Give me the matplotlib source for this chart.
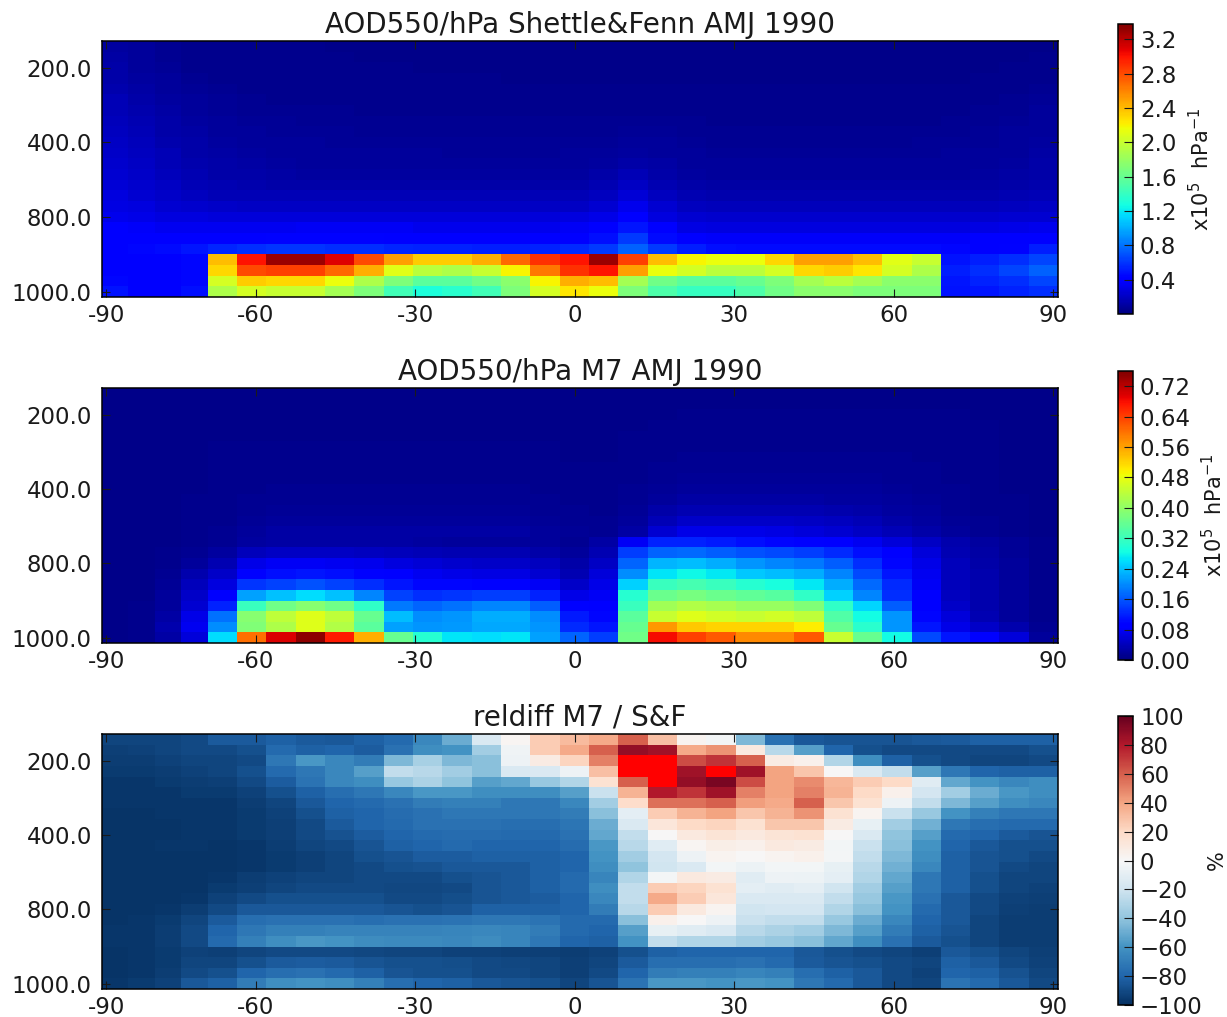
import numpy as np
import matplotlib
matplotlib.use('Agg')
import matplotlib.pyplot as plt

W, H = 1227., 1017.

# model level / latitude cell layout (axes run over cell index, not degrees)
x_edges = np.r_[np.linspace(0, 10.64, 5), np.linspace(10.64, 84.25, 26)[1:], np.linspace(84.25, 96, 5)[1:]]
y_edges = np.arange(25)
lat_ticks = [0.5, 15.5, 31.5, 47.5, 63.5, 79.5, 95.5]
lat_labels = ['-90', '-60', '-30', '0', '30', '60', '90']
lev_ticks = [2.5, 9.5, 16.5, 23.5]
lev_labels = ['200.0', '400.0', '800.0', '1000.0']

# AOD550/hPa Shettle&Fenn, x1e5 hPa-1, in hundredths
aod_sf = np.array([
[10, 8, 6, 5, 4, 4, 4, 4, 3, 3, 3, 3, 3, 3, 3, 3, 3, 3, 3, 3, 3, 3, 3, 3, 3, 3, 3, 3, 3, 3, 3, 3, 3],
[11, 8, 6, 5, 4, 4, 4, 4, 4, 3, 3, 3, 3, 3, 3, 3, 3, 3, 3, 3, 3, 3, 3, 3, 3, 3, 3, 3, 3, 3, 3, 3, 4],
[12, 9, 7, 5, 4, 4, 4, 4, 4, 4, 4, 3, 3, 3, 3, 3, 3, 3, 3, 3, 3, 3, 3, 3, 3, 3, 3, 3, 3, 3, 3, 4, 4],
[13,10, 8, 6, 5, 4, 4, 4, 4, 4, 4, 4, 4, 4, 3, 3, 3, 3, 3, 3, 3, 3, 3, 3, 3, 3, 3, 3, 3, 3, 4, 4, 5],
[14,11, 9, 7, 6, 5, 5, 5, 4, 4, 4, 4, 4, 4, 4, 4, 4, 4, 4, 4, 4, 4, 4, 4, 4, 4, 4, 4, 4, 4, 4, 5, 6],
[16,12,10, 8, 7, 6, 5, 5, 5, 5, 5, 5, 5, 5, 4, 4, 4, 4, 4, 4, 4, 4, 4, 4, 4, 4, 4, 4, 4, 4, 5, 6, 7],
[17,14,11, 9, 7, 6, 6, 6, 6, 5, 5, 5, 5, 5, 5, 5, 5, 5, 5, 5, 5, 5, 5, 5, 5, 5, 5, 5, 5, 5, 6, 6, 8],
[18,15,12,10, 8, 7, 7, 6, 6, 6, 6, 6, 6, 6, 6, 6, 6, 6, 6, 6, 6, 5, 5, 5, 5, 5, 5, 5, 5, 6, 6, 7, 8],
[19,16,13,11, 9, 8, 7, 7, 7, 6, 6, 6, 6, 6, 6, 6, 6, 6, 7, 7, 6, 6, 6, 6, 6, 6, 6, 6, 6, 6, 7, 8, 9],
[21,18,14,12,10, 9, 8, 8, 7, 7, 7, 7, 7, 7, 7, 7, 7, 7, 8, 8, 7, 6, 6, 6, 6, 6, 6, 6, 7, 7, 7, 8,10],
[22,19,16,13,11,10, 9, 8, 8, 8, 8, 8, 7, 7, 7, 7, 8, 8,10, 9, 8, 7, 7, 7, 7, 7, 7, 7, 7, 8, 8, 9,11],
[23,20,17,14,12,11,10, 9, 9, 9, 8, 8, 8, 8, 8, 8, 9,10,13,11, 9, 8, 8, 8, 8, 8, 8, 8, 8, 8, 9,10,12],
[25,22,18,15,13,12,11,10,10,10,10,10,10,10,10,10,10,12,16,13,10, 9, 9, 9, 9, 9, 9, 9, 9, 9,10,11,13],
[26,23,20,17,15,14,13,13,13,13,12,12,12,12,12,12,12,15,20,15,12,11,11,11,11,11,11,11,11,11,11,12,14],
[28,25,22,19,17,17,16,16,16,16,16,16,16,16,16,16,16,19,26,19,15,14,14,14,14,14,14,14,14,14,14,15,16],
[30,28,25,23,22,21,21,21,21,21,21,21,21,21,21,21,21,24,32,24,19,18,18,18,18,18,18,18,18,18,18,19,20],
[33,31,29,28,27,27,27,27,27,27,27,27,27,27,27,27,28,31,40,29,24,23,23,23,23,23,23,23,23,23,23,24,25],
[37,36,34,34,34,34,34,35,35,35,35,33,33,33,33,33,35,39,50,37,30,29,29,29,29,29,29,29,29,29,30,31,33],
[40,40,40,42,42,42,43,43,43,43,42,40,40,40,40,40,42,47,62,46,38,36,36,36,36,36,36,36,36,36,37,38,42],
[42,44,46,50,55,58,60,60,58,58,55,53,53,52,52,53,56,62,75,62,52,47,45,45,45,45,45,45,46,44,42,43,52],
[40,38,40,44,240,300,330,330,310,280,250,235,235,245,270,290,300,330,285,240,220,215,215,230,250,250,240,210,200,48,52,58,65],
[42,40,40,44,230,280,285,285,270,245,210,195,190,200,220,265,290,300,250,215,205,195,195,205,230,235,225,205,190,52,57,65,74],
[44,40,40,44,205,235,230,230,215,190,170,155,155,165,175,220,245,240,185,165,155,155,160,170,185,195,185,175,175,50,54,58,65],
[48,42,42,47,190,205,200,200,185,170,145,130,135,145,170,205,225,215,170,150,140,140,150,165,175,175,170,170,170,48,50,54,57],
]) / 100.

# AOD550/hPa M7, x1e5 hPa-1, in thousandths
aod_m7 = np.array([
[ 8, 8, 8, 8, 8, 8, 8, 8, 8, 8, 8, 8, 8, 8, 8, 8, 8, 8, 8, 8, 8, 8, 8, 8, 8, 8, 8, 8, 8, 8, 8, 8, 8],
[ 8, 8, 8, 8, 8, 8, 8, 8, 8, 8, 8, 8, 8, 8, 8, 8, 8, 8, 8, 8, 8, 8, 8, 8, 8, 8, 8, 8, 8, 8, 8, 8, 8],
[ 8, 8, 8, 8, 8, 8, 8, 8, 8, 8, 8, 8, 8, 8, 8, 8, 8, 8, 8, 8, 9, 9, 9, 9, 9, 9, 9, 9, 9, 9, 8, 8, 8],
[ 8, 8, 8, 8, 8, 8, 8, 8, 8, 8, 8, 8, 8, 8, 8, 8, 8, 8, 8, 9, 9, 9, 9, 9, 9, 9, 9, 9, 9, 9, 9, 8, 8],
[ 8, 8, 8, 8, 8, 8, 8, 8, 8, 8, 8, 8, 8, 8, 8, 8, 8, 8, 9,10,10,10,10,10,10,10,10,10,10, 9, 9, 8, 8],
[ 8, 8, 8, 8, 9, 9, 9, 9, 9, 9, 9, 9, 9, 9, 9, 9, 8, 8, 9,10,11,11,11,11,11,11,11,11,10,10, 9, 8, 8],
[ 8, 8, 8, 8, 9, 9, 9, 9, 9, 9, 9, 9, 9, 9, 9, 9, 8, 8,10,11,12,12,12,12,12,12,12,12,11,10, 9, 8, 8],
[ 8, 8, 8, 8, 9,10,10,10,10,10,10,10,10,10,10, 9, 9, 9,10,12,14,14,14,14,14,14,14,13,12,11, 9, 8, 8],
[ 8, 8, 8, 8, 9,10,11,11,11,11,11,11,11,11,11,10, 9, 9,11,14,16,16,16,16,16,16,16,14,13,11,10, 8, 8],
[ 8, 8, 8, 8,10,11,12,12,12,12,12,12,12,12,12,11,10,10,12,16,20,20,20,20,20,19,18,16,14,12,10, 8, 8],
[ 8, 8, 8, 9,10,12,14,14,14,14,14,14,14,14,14,12,11,10,14,20,25,25,25,25,24,23,21,19,16,13,10, 9, 8],
[ 8, 8, 8, 9,10,13,16,16,16,16,16,16,16,16,16,14,12,11,16,27,35,35,35,35,33,30,27,23,18,14,11, 9, 8],
[ 8, 8, 8, 9,11,15,20,20,20,20,20,20,20,20,20,16,13,12,20,37,50,50,50,48,45,42,36,28,22,16,12, 9, 8],
[ 8, 8, 8, 9,12,20,25,25,25,25,25,25,25,25,24,20,15,14,25,55,70,70,70,66,60,55,46,38,28,20,14, 9, 8],
[ 8, 8, 8,10,14,22,24,25,24,24,24,22,20,20,20,18,14,25,80,120,120,115,105,100,95,85,75,60,45,30,22,15,10],
[ 8, 8,10,14,22,40,45,45,45,42,40,38,35,33,33,28,20,35,140,170,175,165,155,150,140,125,105,85,60,35,25,16,10],
[ 8, 8,10,20,35,70,78,78,75,72,65,58,52,50,50,42,28,45,170,230,235,225,205,195,185,165,130,100,70,40,28,18,10],
[ 8, 8,12,30,50,95,105,110,105,95,85,75,70,68,68,55,35,60,200,265,280,270,245,235,225,195,150,110,75,40,30,18,10],
[ 8, 8,15,40,65,135,145,155,145,130,110,100,98,95,95,80,50,70,250,320,330,320,300,290,270,225,175,125,80,40,30,18,10],
[ 8, 8,18,50,85,215,240,260,240,195,145,130,135,140,140,120,70,80,300,365,375,365,355,345,310,250,195,130,85,42,30,18,10],
[ 8,10,20,55,120,320,370,390,370,310,185,170,180,195,195,165,95,90,320,415,430,420,405,405,385,310,255,165,90,50,32,18,10],
[ 8,10,25,70,180,390,440,470,440,360,235,200,205,225,225,200,115,100,350,450,470,460,450,460,440,340,285,205,100,60,35,20,10],
[ 8,10,30,75,200,385,425,470,430,350,215,205,210,220,220,205,125,110,360,570,530,520,520,520,500,360,305,205,110,70,50,30,14],
[ 8,10,25,60,260,600,700,750,670,550,360,300,265,260,265,215,170,140,370,680,640,620,580,580,620,450,360,285,150,110,95,60,20],
]) / 1000.

# relative difference M7 / S&F, percent
reldiff = np.array([
[-92,-92,-92,-90,-84,-84,-82,-84,-85,-82,-78,-65,-50,-15,  2, 25, 32, 38, 60, 30,  3, -3,-45,-75,-85,-86,-86,-86,-85,-84,-82,-82,-82],
[-94,-93,-92,-90,-90,-88,-78,-82,-80,-83,-75,-62,-60,-35, -4, 25, 38, 60, 88, 85, 38, 45, 10,-28,-55,-80,-88,-90,-90,-90,-90,-90,-88],
[-95,-95,-93,-92,-92,-90,-72,-58,-65,-70,-45,-33,-45,-42, -5,  8, 22, 50,110,110, 65, 72, 60,  8,  5,-30,-62,-82,-88,-90,-92,-92,-90],
[-96,-96,-95,-93,-92,-88,-78,-72,-65,-55,-25,-28,-35,-42,-15,-15, -5, 30,112,115, 85,110, 85, 40, 28,  0,-15,-25,-55,-72,-80,-82,-82],
[-97,-97,-96,-95,-94,-90,-83,-74,-65,-62,-38,-32,-40,-55,-52,-38,-30, 15, 60,115, 88, 95, 65, 40, 47, 33, 25, 20,-12,-52,-60,-65,-62],
[-97,-97,-97,-96,-96,-93,-88,-82,-76,-72,-65,-58,-58,-62,-62,-62,-55,-22, 35, 80, 72, 85, 50, 40, 50, 35, 20,  5,-18,-35,-50,-58,-62],
[-97,-97,-97,-97,-97,-95,-92,-85,-80,-78,-75,-70,-68,-68,-72,-72,-65,-35, 18, 55, 55, 60, 42, 38, 60, 28, 15, -5,-25,-45,-55,-62,-65],
[-98,-98,-97,-97,-97,-96,-93,-88,-82,-80,-77,-75,-72,-72,-72,-72,-70,-42,-10, 25, 35, 40, 28, 35, 45, 15,  3,-22,-38,-60,-68,-72,-72],
[-98,-98,-98,-97,-97,-96,-94,-90,-84,-80,-78,-75,-75,-75,-76,-76,-73,-50,-15, 12, 20, 22, 15, 28, 28,  8, -8,-35,-48,-72,-76,-78,-78],
[-98,-98,-98,-97,-97,-96,-94,-90,-87,-83,-80,-78,-77,-77,-78,-78,-75,-52,-25,  0, 10, 14, 10, 14, 15,  0,-15,-40,-55,-78,-80,-84,-86],
[-98,-98,-97,-97,-98,-97,-95,-92,-90,-86,-82,-80,-78,-80,-80,-80,-77,-58,-28,-12,  2,  7,  5, 10,  8, -3,-22,-42,-60,-80,-85,-88,-88],
[-98,-98,-98,-98,-98,-97,-96,-94,-92,-88,-86,-83,-83,-82,-82,-82,-80,-60,-35,-18, -5,  3,  0,  3,  5, -2,-25,-45,-62,-82,-86,-88,-90],
[-98,-98,-98,-98,-98,-97,-96,-94,-92,-90,-88,-87,-85,-85,-85,-82,-80,-62,-40,-20,-15, -3, -6, -3, -3, -8,-28,-48,-65,-82,-86,-90,-92],
[-98,-98,-98,-98,-97,-95,-93,-92,-92,-90,-90,-90,-88,-86,-85,-82,-78,-66,-30, -2, 10,  8,-12, -5, -6,-10,-30,-52,-72,-82,-88,-92,-92],
[-98,-98,-98,-98,-96,-94,-92,-90,-90,-90,-91,-91,-90,-86,-85,-82,-78,-62,-25, 25, 22, 15,-10,-12,-10,-20,-35,-55,-72,-82,-88,-92,-93],
[-98,-98,-98,-97,-93,-90,-88,-88,-88,-88,-90,-90,-89,-86,-85,-83,-80,-65,-25, 38, 25, 12,-15,-15,-15,-25,-38,-58,-75,-85,-90,-93,-94],
[-98,-98,-97,-95,-90,-85,-85,-85,-85,-85,-86,-88,-86,-82,-82,-82,-80,-70,-28, 25, 10,  3,-20,-18,-18,-30,-42,-60,-78,-85,-90,-94,-95],
[-98,-97,-96,-92,-84,-76,-75,-75,-75,-76,-75,-75,-74,-72,-72,-74,-78,-78,-42,  5,  0, -5,-22,-25,-25,-38,-50,-65,-80,-85,-92,-95,-95],
[-97,-97,-95,-90,-80,-72,-68,-68,-67,-67,-67,-67,-66,-65,-66,-70,-78,-80,-55, -8,-12,-15,-28,-32,-35,-45,-55,-70,-82,-86,-92,-95,-95],
[-97,-97,-95,-90,-78,-68,-62,-58,-60,-63,-64,-64,-65,-63,-66,-72,-80,-82,-60,-25,-30,-30,-35,-38,-42,-52,-62,-75,-84,-88,-92,-95,-95],
[-98,-97,-96,-93,-94,-92,-90,-90,-90,-91,-92,-92,-93,-93,-94,-94,-95,-93,-88,-82,-80,-80,-80,-80,-85,-88,-90,-92,-94,-85,-88,-92,-94],
[-98,-97,-96,-92,-92,-88,-84,-83,-84,-86,-88,-88,-89,-90,-91,-92,-94,-92,-84,-76,-76,-76,-75,-78,-84,-86,-88,-90,-92,-82,-85,-90,-93],
[-98,-97,-95,-90,-88,-80,-76,-75,-78,-82,-86,-88,-88,-90,-90,-92,-94,-90,-80,-70,-68,-68,-66,-68,-76,-82,-85,-90,-93,-80,-82,-87,-92],
[-97,-96,-93,-85,-82,-70,-62,-60,-62,-68,-76,-80,-82,-85,-86,-88,-92,-86,-74,-58,-58,-60,-58,-60,-72,-78,-85,-90,-92,-74,-78,-85,-90],
])

titles = ['AOD550/hPa Shettle&Fenn AMJ 1990', 'AOD550/hPa M7 AMJ 1990', 'reldiff M7 / S&F']
fields = [aod_sf, aod_m7, reldiff]
limits = [(0., 3.38), (0., 0.76), (-100., 100.)]
cbar_ticks = [np.arange(0.4, 3.3, 0.4), np.arange(0., 0.73, 0.08), np.arange(-100, 101, 20)]
cbar_fmt = ['%.1f', '%.2f', None]
cbar_units = ['x10$^5$  hPa$^{-1}$', 'x10$^5$  hPa$^{-1}$', '%']
cmaps = ['jet', 'jet', 'RdBu_r']

# pixel boxes: axes top/bottom, colourbar top/bottom, label x
ax_box = [(41, 297), (388, 643), (734, 989)]
cb_box = [(24, 314), (371, 660), (716, 1005)]
unit_x = [1201, 1214, 1217]

fig = plt.figure(figsize=(W / 100, H / 100), dpi=100)
for i, field in enumerate(fields):
    top, bot = ax_box[i]
    ax = fig.add_axes([101.5 / W, 1 - bot / H, 956.5 / W, (bot - top) / H])
    cmap = plt.get_cmap(cmaps[i]).copy()
    if i == 2:
        cmap.set_over('red')
    mesh = ax.pcolormesh(x_edges, y_edges, field, cmap=cmap, vmin=limits[i][0], vmax=limits[i][1])
    ax.set_xlim(0, 96)
    ax.set_ylim(24, 0)
    ax.set_xticks(lat_ticks)
    ax.set_xticklabels(lat_labels)
    ax.set_yticks(lev_ticks)
    ax.set_yticklabels(lev_labels)
    ax.tick_params(direction='in', top=True, right=True, length=5.5, width=0.8, labelsize=16.5, colors='#1a1a1a')
    ax.tick_params(axis='x', pad=5)
    ax.tick_params(axis='y', pad=7)
    ax.set_title(titles[i], fontsize=20, color='#1a1a1a', pad=6)
    for s in ax.spines.values():
        s.set_linewidth(1.1)

    top, bot = cb_box[i]
    cax = fig.add_axes([1118 / W, 1 - bot / H, 15 / W, (bot - top) / H])
    cb = fig.colorbar(mesh, cax=cax, ticks=cbar_ticks[i], format=cbar_fmt[i])
    cb.ax.tick_params(direction='in', length=6.5, width=0.8, labelsize=16.5, colors='#1a1a1a', pad=5)
    cb.outline.set_linewidth(1.1)
    fig.text(unit_x[i] / W, 1 - (top + bot) / 2. / H, cbar_units[i], rotation=90, fontsize=15,
             color='#1a1a1a', ha='center', va='center')

plt.savefig('out.png', dpi=100)
